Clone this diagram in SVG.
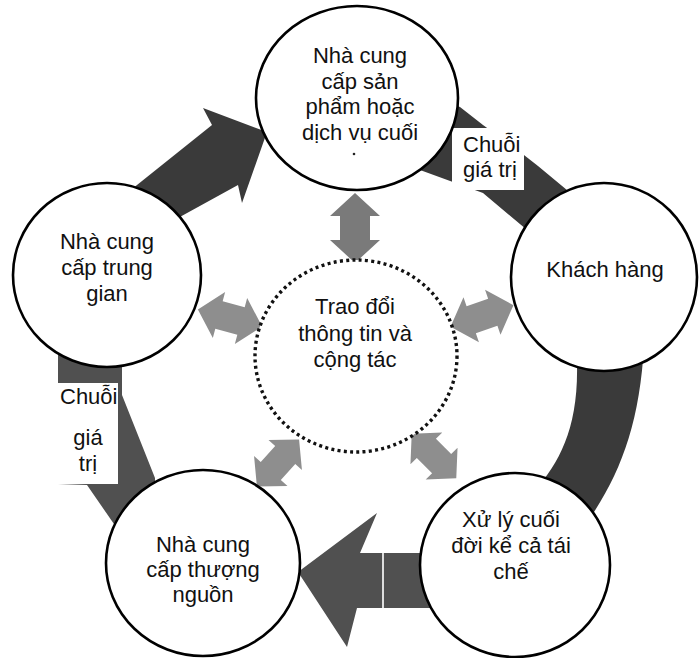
<svg xmlns="http://www.w3.org/2000/svg" width="699" height="658" viewBox="0 0 699 658">
<style>
.node{fill:#fff;stroke:#000;stroke-width:2.6}
.hub{fill:#fff;stroke:#111;stroke-width:3.4;stroke-dasharray:3 3.3}
.t{font-family:"Liberation Sans",Arial,sans-serif;font-size:22px;fill:#111;text-anchor:middle}
.lbl{font-family:"Liberation Sans",Arial,sans-serif;font-size:22px;fill:#111}
.dark{fill:#3a3a3a}
.mid{fill:#505050}
.light{fill:#8e8e8e}
.box{fill:#fff}
</style>
<defs>
<path id="dbl" d="M-35,0 L-12,-25 L-12,-15 L12,-15 L12,-25 L35,0 L12,25 L12,15 L-12,15 L-12,25 Z"/>
</defs>
<g id="connectors">
  <!-- intermediate -> final supplier -->
  <polygon class="dark" points="122,197 212,125 203,108 267,132 242,203 238,185 158,229"/>
  <!-- final supplier -> customer -->
  <polygon class="dark" points="430,95 460,107 483,125 515,148 538,166 585,205 545,245 483,193 420,170 410,160"/>
  <!-- customer -> end of life -->
  <path class="dark" d="M576,345 L644,345 C640,420 622,470 592,515 L535,490 C562,460 582,420 576,345 Z"/>
  <!-- end of life -> upstream -->
  <polygon class="mid" points="435,553 360,553 377,513 298,572 347,647 357,608 435,608"/>
  <line x1="383" y1="553" x2="383" y2="608" stroke="#ddd" stroke-width="2"/>
  <!-- upstream -> intermediate -->
  <polygon class="mid" points="58,340 122,340 122,395 155,478 155,510 125,540 87,485 58,484"/>
  <!-- information exchange double arrows -->
  <use href="#dbl" class="light" style="fill:#7a7a7a" transform="translate(355,228) rotate(90)"/>
  <use href="#dbl" class="light" transform="translate(230,318) rotate(15) scale(0.95)"/>
  <use href="#dbl" class="light" transform="translate(482,316) rotate(-19) scale(0.95)"/>
  <use href="#dbl" class="light" transform="translate(278,463) rotate(-48) scale(0.9)"/>
  <use href="#dbl" class="light" transform="translate(434,456) rotate(45) scale(0.9)"/>
  <!-- value chain labels -->
  <rect class="box" x="452" y="128" width="72" height="62"/>
  <text class="lbl" x="463" y="152">Chuỗi</text>
  <text class="lbl" x="463" y="177">giá trị</text>
  <rect class="box" x="52" y="383" width="66" height="101"/>
  <text class="lbl" x="60" y="404">Chuỗi</text>
  <text class="t" x="88" y="445">giá</text>
  <text class="t" x="88" y="471">trị</text>
</g>
<g id="node-final-supplier">
  <ellipse class="node" cx="357" cy="98" rx="101" ry="92"/>
  <text class="t" x="360" y="63">Nhà cung</text>
  <text class="t" x="360" y="88.5">cấp sản</text>
  <text class="t" x="360" y="114">phẩm hoặc</text>
  <text class="t" x="360" y="139.5">dịch vụ cuối</text>
  <circle cx="354" cy="154" r="1.3" fill="#222"/>
</g>
<g id="node-customer">
  <ellipse class="node" cx="604" cy="277" rx="93" ry="94"/>
  <text class="t" x="605" y="277">Khách hàng</text>
</g>
<g id="node-intermediate">
  <ellipse class="node" cx="107" cy="275" rx="94" ry="92"/>
  <text class="t" x="107" y="249">Nhà cung</text>
  <text class="t" x="107" y="275">cấp trung</text>
  <text class="t" x="107" y="301">gian</text>
</g>
<g id="node-hub">
  <ellipse class="hub" cx="356" cy="356" rx="101" ry="96"/>
  <text class="t" x="355" y="314">Trao đổi</text>
  <text class="t" x="355" y="341">thông tin và</text>
  <text class="t" x="355" y="367">cộng tác</text>
</g>
<g id="node-upstream">
  <ellipse class="node" cx="203" cy="563" rx="97" ry="93"/>
  <text class="t" x="203" y="552">Nhà cung</text>
  <text class="t" x="203" y="577">cấp thượng</text>
  <text class="t" x="203" y="602">nguồn</text>
</g>
<g id="node-end-of-life">
  <ellipse class="node" cx="515" cy="565" rx="95" ry="92"/>
  <text class="t" x="511" y="527">Xử lý cuối</text>
  <text class="t" x="511" y="553">đời kể cả tái</text>
  <text class="t" x="511" y="579">chế</text>
</g>
</svg>
